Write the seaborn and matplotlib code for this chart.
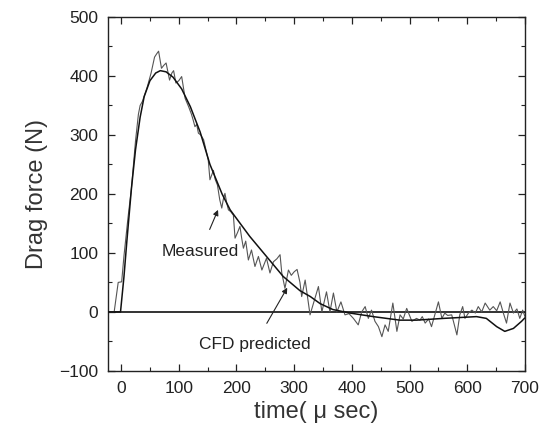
import matplotlib
matplotlib.use("Agg")
import matplotlib.pyplot as plt
import seaborn as sns
import pandas as pd
from matplotlib.ticker import MultipleLocator

# ---- data ----
meas_t = [-22, -12, -5, 1, 5, 12, 18, 25, 30, 33, 37, 45, 52, 58, 62, 65, 70, 74, 78, 84,
          88, 91, 95, 100, 105, 111, 117, 122, 125, 128, 131, 134, 138, 143, 147, 151, 154,
          157, 160, 163, 167, 171, 174.5, 177, 180, 183, 186, 190, 194.6, 197.5, 202, 206,
          209, 212, 216, 220.6, 226, 232, 238, 244, 252, 258, 264, 270, 275.5, 278.5, 284,
          290, 295, 300, 305, 310, 313, 319, 327.5, 335, 342, 348, 356, 362, 368, 374, 381,
          388, 395, 402.6, 411, 417, 423, 428.5, 434, 440, 446, 452, 457.5, 463, 471, 478,
          483.5, 489, 495, 504, 512, 518, 522, 527, 533, 538, 542, 550, 556, 561, 566, 573,
          576, 582, 587, 592, 596, 602, 608, 614, 619, 625, 631, 639, 645, 651, 657, 662.5,
          668, 674, 680, 686, 691, 696, 700]
meas_v = [0, 0, 50, 51, 95, 160, 210, 290, 335, 350, 357, 380, 405, 432, 438, 442, 413, 418,
          422, 393, 405, 409, 388, 392, 399, 362, 348, 335, 325, 314, 318, 303, 300, 292, 275,
          258, 224, 232, 240, 225, 215, 190, 176, 190, 201, 185, 173, 170, 164, 125, 135, 145,
          125, 108, 120, 88, 105, 77, 94, 71, 91, 66, 85, 90, 97, 66, 40, 71, 62, 68, 72, 50,
          26, 54, -5, 20, 43, 0, 34, 0, 32, 0, 17, -5, -3, -11, -22, 0, 9, -11, 3, -16, -25,
          -42, -22, -33, 15, -33, -5, -12, 6, -16, -11, -14, -8, -19, -12, -25, -11, 17, -11,
          -2, -6, -5, -16, -39, -5, 9, -11, -2, 3, -2, 9, 0, 15, 3, 9, 2, 17, -2, -19, 15, -2,
          5, -11, 3, -8]

cfd_t = [-22, -1, 5, 10, 18, 25, 33, 40, 50, 60, 68, 78, 90, 105, 120, 137, 154, 175, 189,
         223, 252, 281, 310, 328, 345, 367, 397, 437, 483, 512, 559, 616, 633, 651, 665, 680,
         694, 700]
cfd_v = [0, 0, 60, 120, 210, 275, 330, 365, 392, 405, 409, 407, 398, 378, 348, 305, 250, 200,
         173, 128, 94, 60, 36, 26, 14, 4, -2, -8, -14, -14, -11, -8, -11, -25, -33, -28, -16,
         -10]

x_ticks = [0, 100, 200, 300, 400, 500, 600, 700]
y_ticks = [-100, 0, 100, 200, 300, 400, 500]

meas = pd.DataFrame({"t": meas_t, "v": meas_v})
cfd = pd.DataFrame({"t": cfd_t, "v": cfd_v})

sns.set_theme(style="ticks")
plt.rcParams["font.family"] = ["Liberation Sans", "DejaVu Sans"]

fig = plt.figure(figsize=(5.46, 4.41), dpi=100)
ax = fig.add_axes([0.198, 0.159, 0.7635, 0.8025])

ax.axhline(0, color="#111111", lw=1.2, zorder=1)
sns.lineplot(data=meas, x="t", y="v", ax=ax, color="#555555", lw=0.8,
             estimator=None, sort=False, zorder=2)
sns.lineplot(data=cfd, x="t", y="v", ax=ax, color="#111111", lw=1.1,
             estimator=None, sort=False, zorder=3)

ax.set_xlim(-22.5, 700)
ax.set_ylim(-100, 500)
ax.set_xticks(x_ticks)
ax.set_yticks(y_ticks)
ax.set_yticklabels(["\u2212100" if v < 0 else str(v) for v in y_ticks])
ax.xaxis.set_minor_locator(MultipleLocator(50))
ax.yaxis.set_minor_locator(MultipleLocator(50))
ax.tick_params(which="both", direction="in", top=True, right=True, colors="#222222")
ax.tick_params(which="major", length=5, width=0.9, labelsize=12.5, pad=7)
ax.tick_params(which="minor", length=3, width=0.8)
for s in ax.spines.values():
    s.set_linewidth(1.0)
    s.set_color("#222222")

ax.set_xlabel("time( \u03bc sec)", fontsize=17, color="#333333", labelpad=4)
ax.set_ylabel("Drag force (N)", fontsize=17, color="#333333", labelpad=8)

ax.annotate("Measured", xy=(168, 173), xytext=(137, 102), fontsize=12.5,
            ha="center", va="center", color="#222222",
            arrowprops=dict(arrowstyle="-|>", color="#222222", lw=0.8,
                            shrinkA=9, shrinkB=0, mutation_scale=8))
ax.annotate("CFD predicted", xy=(288, 41), xytext=(231, -56), fontsize=12.5,
            ha="center", va="center", color="#222222",
            arrowprops=dict(arrowstyle="-|>", color="#222222", lw=0.8,
                            shrinkA=9, shrinkB=0, mutation_scale=8))

fig.savefig("out.png", dpi=100)
